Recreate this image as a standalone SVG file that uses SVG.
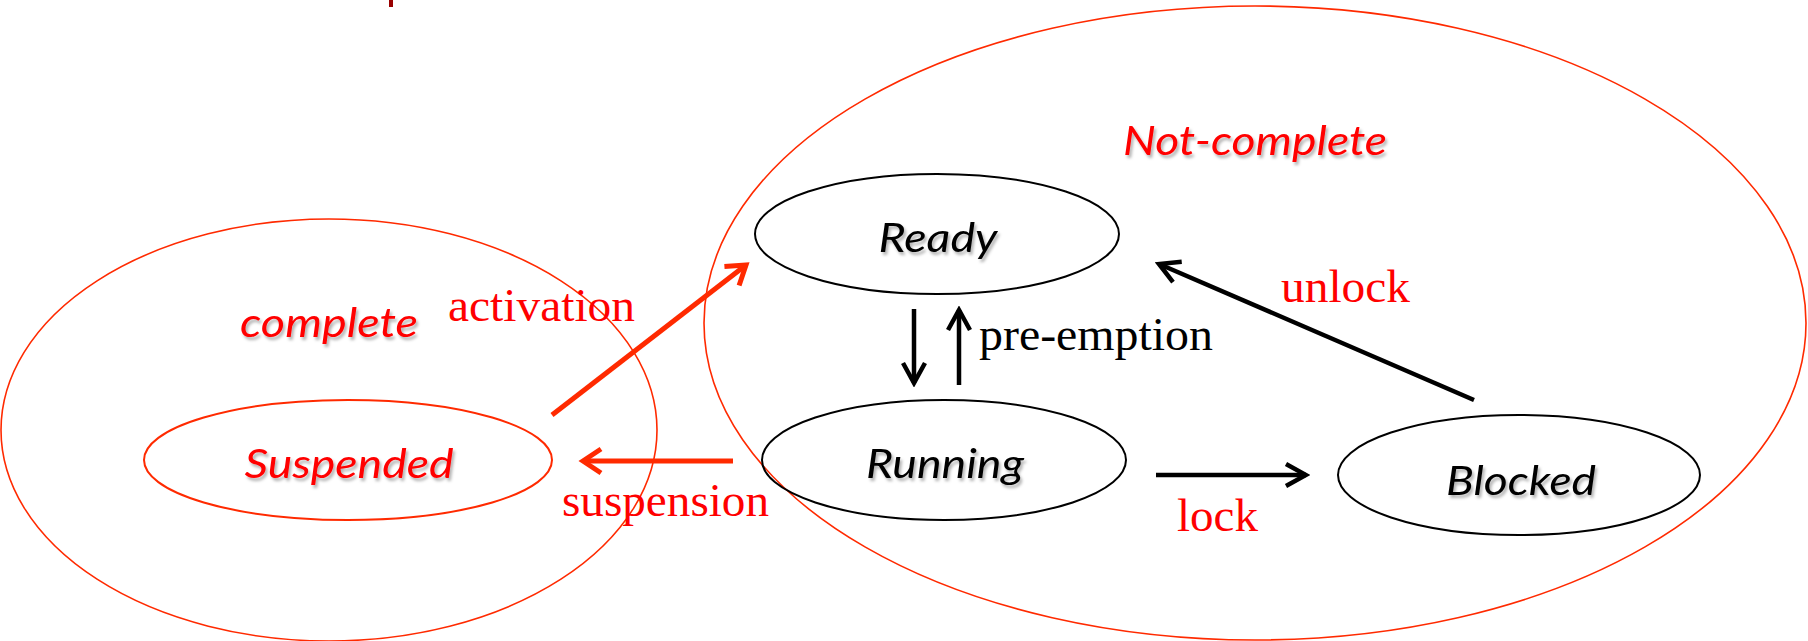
<svg xmlns="http://www.w3.org/2000/svg" width="1808" height="641" viewBox="0 0 1808 641">
  <style>
    .container { fill: none; stroke: #ff2a00; stroke-width: 1.6; }
    .state { fill: none; stroke: #000; stroke-width: 2; }
    .state-red { fill: none; stroke: #ff2a00; stroke-width: 2; }
    .ital { font-family: Lato, "Open Sans", "Liberation Sans", sans-serif; font-style: italic; font-size: 40px; filter: url(#shadow); }
    .lbl { font-family: "Liberation Serif", "Times New Roman", serif; font-size: 46px; }
    .red { fill: #ff0000; }
    .blk { fill: #000; }
    .conn-black { fill: none; stroke: #000; stroke-width: 4.5; marker-end: url(#ahBlack); }
    .conn-red { fill: none; stroke: #ff2a00; stroke-width: 5; marker-end: url(#ahRed); }
  </style>
  <defs>
    <filter id="shadow" x="-10%" y="-20%" width="130%" height="160%">
      <feDropShadow dx="2" dy="3" stdDeviation="1.5" flood-color="#000" flood-opacity="0.3"/>
    </filter>
    <marker id="ahBlack" markerUnits="userSpaceOnUse" viewBox="0 0 28 28" markerWidth="28" markerHeight="28" refX="24" refY="14" orient="auto">
      <path d="M4,3 L24,14 L4,25" fill="none" stroke="#000" stroke-width="4.5"/>
    </marker>
    <marker id="ahRed" markerUnits="userSpaceOnUse" viewBox="0 0 30 30" markerWidth="30" markerHeight="30" refX="25" refY="15" orient="auto">
      <path d="M7,3 L25,15 L7,27" fill="none" stroke="#ff2a00" stroke-width="5"/>
    </marker>
  </defs>

  <rect x="0" y="0" width="1808" height="641" fill="#fff"/>
  <rect x="389" y="0" width="4" height="7" fill="#990000"/>

  <g id="complete">
    <ellipse class="container" cx="329" cy="430" rx="328" ry="211"/>
    <text class="ital red" x="329" y="337" text-anchor="middle" textLength="178" lengthAdjust="spacingAndGlyphs">complete</text>
  </g>
  <g id="not-complete">
    <ellipse class="container" cx="1255" cy="323" rx="551" ry="317"/>
    <text class="ital red" x="1255" y="155" text-anchor="middle" textLength="264" lengthAdjust="spacingAndGlyphs">Not-complete</text>
  </g>

  <g id="suspended">
    <ellipse class="state-red" cx="348" cy="460" rx="204" ry="60"/>
    <text class="ital red" x="349" y="478" text-anchor="middle" textLength="209" lengthAdjust="spacingAndGlyphs">Suspended</text>
  </g>
  <g id="ready">
    <ellipse class="state" cx="937" cy="234" rx="182" ry="60"/>
    <text class="ital blk" x="938" y="252" text-anchor="middle" textLength="119" lengthAdjust="spacingAndGlyphs">Ready</text>
  </g>
  <g id="running">
    <ellipse class="state" cx="944" cy="460" rx="182" ry="60"/>
    <text class="ital blk" x="945" y="478" text-anchor="middle" textLength="158" lengthAdjust="spacingAndGlyphs">Running</text>
  </g>
  <g id="blocked">
    <ellipse class="state" cx="1519" cy="475" rx="181" ry="60"/>
    <text class="ital blk" x="1521" y="495" text-anchor="middle" textLength="150" lengthAdjust="spacingAndGlyphs">Blocked</text>
  </g>

  <g id="connectors">
    <path class="conn-red" d="M552,415 L746,265"/>
    <path class="conn-red" d="M733,461 L583,461"/>
    <path class="conn-black" d="M914,309 L914,383"/>
    <path class="conn-black" d="M959,385 L959,310"/>
    <path class="conn-black" d="M1474,400 L1159,264"/>
    <path class="conn-black" d="M1156,475 L1306,475"/>
    <text class="lbl red" x="448" y="321" textLength="187" lengthAdjust="spacingAndGlyphs">activation</text>
    <text class="lbl red" x="562" y="516" textLength="207" lengthAdjust="spacingAndGlyphs">suspension</text>
    <text class="lbl blk" x="979" y="350" textLength="234" lengthAdjust="spacingAndGlyphs">pre-emption</text>
    <text class="lbl red" x="1281" y="302" textLength="129" lengthAdjust="spacingAndGlyphs">unlock</text>
    <text class="lbl red" x="1177" y="531" textLength="81" lengthAdjust="spacingAndGlyphs">lock</text>
  </g>
</svg>
